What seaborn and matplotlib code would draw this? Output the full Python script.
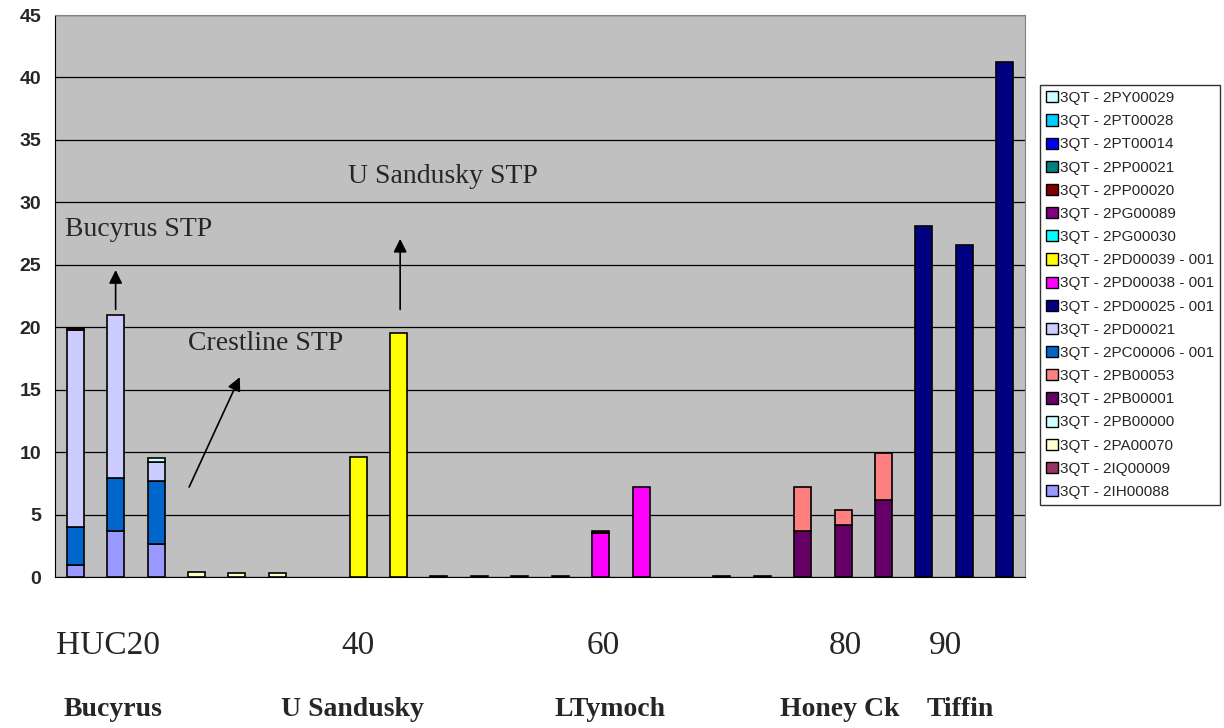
import seaborn as sns
import matplotlib.pyplot as plt
from matplotlib.patches import Patch
import numpy as np

# 24 sampling slots along the river, stacked loads per discharger
n_slots = 24

series_names = ["3QT - 2IH00088", "3QT - 2IQ00009", "3QT - 2PA00070", "3QT - 2PB00000",
                "3QT - 2PB00001", "3QT - 2PB00053", "3QT - 2PC00006 - 001", "3QT - 2PD00021",
                "3QT - 2PD00025 - 001", "3QT - 2PD00038 - 001", "3QT - 2PD00039 - 001",
                "3QT - 2PG00030", "3QT - 2PG00089", "3QT - 2PP00020", "3QT - 2PP00021",
                "3QT - 2PT00014", "3QT - 2PT00028", "3QT - 2PY00029"]
series_colors = ["#9999FF", "#993366", "#FFFFCC", "#CCFFFF", "#660066", "#FF8080", "#0066CC",
                 "#CCCCFF", "#000080", "#FF00FF", "#FFFF00", "#00FFFF", "#800080", "#800000",
                 "#008080", "#0000FF", "#00CCFF", "#CCFFFF"]

# non-zero values: {slot: value}
v_2IH00088 = {0: 1.0, 1: 3.7, 2: 2.65}
v_2PA00070 = {3: 0.43, 4: 0.33, 5: 0.33}
v_2PB00001 = {18: 3.7, 19: 4.2, 20: 6.15}
v_2PB00053 = {18: 3.52, 19: 1.15, 20: 3.8}
v_2PC00006 = {0: 3.0, 1: 4.25, 2: 5.05}
v_2PD00021 = {0: 15.8, 1: 13.05, 2: 1.47}
v_2PD00025 = {21: 28.1, 22: 26.6, 23: 41.2}
v_2PD00038 = {13: 3.53, 14: 7.19}
v_2PD00039 = {7: 9.6, 8: 19.5}
v_2PP00020 = {0: 0.15, 2: 0.05, 9: 0.06, 10: 0.06, 11: 0.06, 12: 0.06, 13: 0.13, 16: 0.12, 17: 0.12}
v_2PY00029 = {2: 0.28}

values = {
    "3QT - 2IH00088": v_2IH00088,
    "3QT - 2PA00070": v_2PA00070,
    "3QT - 2PB00001": v_2PB00001,
    "3QT - 2PB00053": v_2PB00053,
    "3QT - 2PC00006 - 001": v_2PC00006,
    "3QT - 2PD00021": v_2PD00021,
    "3QT - 2PD00025 - 001": v_2PD00025,
    "3QT - 2PD00038 - 001": v_2PD00038,
    "3QT - 2PD00039 - 001": v_2PD00039,
    "3QT - 2PP00020": v_2PP00020,
    "3QT - 2PY00029": v_2PY00029,
}

mile_labels = ["HUC20", "40", "60", "80", "90"]
mile_x = [108, 358, 603, 845, 945]
region_labels = ["Bucyrus", "U Sandusky", "LTymoch", "Honey Ck", "Tiffin"]
region_x = [113, 352, 610, 840, 960]

sns.set_style("white")
plt.rcParams["font.family"] = ["Liberation Sans", "DejaVu Sans"]

W, H = 1224, 728
fig = plt.figure(figsize=(12.24, 7.28), dpi=100)
ax = fig.add_axes([55 / W, 1 - 577 / H, 970 / W, 562 / H])
ax.set_facecolor("#C0C0C0")

x = np.arange(n_slots)
bottom = np.zeros(n_slots)
for name, col in zip(series_names, series_colors):
    d = values.get(name, {})
    h = np.array([d.get(i, 0.0) for i in range(n_slots)])
    keep = h > 0
    if keep.any():
        ax.bar(x[keep], h[keep], bottom=bottom[keep], width=0.42, color=col,
               edgecolor="black", linewidth=1.2, zorder=3)
    bottom += h

ax.set_xlim(-0.5, n_slots - 0.5)
ax.set_ylim(0, 45)
ax.set_yticks(range(0, 46, 5))
ax.yaxis.grid(True, color="black", linewidth=0.9, zorder=0)
ax.set_axisbelow(True)
ax.set_xticks([])
ax.tick_params(axis="y", direction="out", length=6, width=1, labelsize=14, pad=4)
for lab in ax.get_yticklabels():
    lab.set_fontweight("bold")
ax.spines["left"].set_color("black")
ax.spines["bottom"].set_color("black")
ax.spines["top"].set_color("#808080")
ax.spines["right"].set_color("#808080")

serif = ["Liberation Serif", "DejaVu Serif"]
ax.text(-0.25, 27.8, "Bucyrus STP", family=serif, fontsize=20, va="center", ha="left")
ax.text(6.75, 32.1, "U Sandusky STP", family=serif, fontsize=20, va="center", ha="left")
ax.text(2.79, 18.7, "Crestline STP", family=serif, fontsize=20, va="center", ha="left")

arrow = dict(arrowstyle="-|>", color="black", linewidth=1.2, mutation_scale=20)
ax.annotate("", xy=(1, 24.8), xytext=(1, 21.2), arrowprops=arrow)
ax.annotate("", xy=(8.04, 27.3), xytext=(8.04, 21.2), arrowprops=arrow)
ax.annotate("", xy=(4.1, 16.2), xytext=(2.79, 7.0), arrowprops=arrow)

for lab, px in zip(mile_labels, mile_x):
    fig.text(px / W, 1 - 646 / H, lab, family=serif, fontsize=24, ha="center", va="center")
for lab, px in zip(region_labels, region_x):
    fig.text(px / W, 1 - 709 / H, lab, family=serif, fontsize=20, fontweight="bold",
             ha="center", va="center")

handles = [Patch(facecolor=c, edgecolor="black", label=n)
           for n, c in zip(series_names[::-1], series_colors[::-1])]
fig.legend(handles=handles, loc="upper left", bbox_to_anchor=(1040 / W, 1 - 85 / H),
           fontsize=11, frameon=True, fancybox=False, edgecolor="black",
           handlelength=0.75, handleheight=0.75, handletextpad=0.15, labelspacing=0.6,
           borderpad=0.4, borderaxespad=0)

fig.savefig("out.png", dpi=100, facecolor="white")
